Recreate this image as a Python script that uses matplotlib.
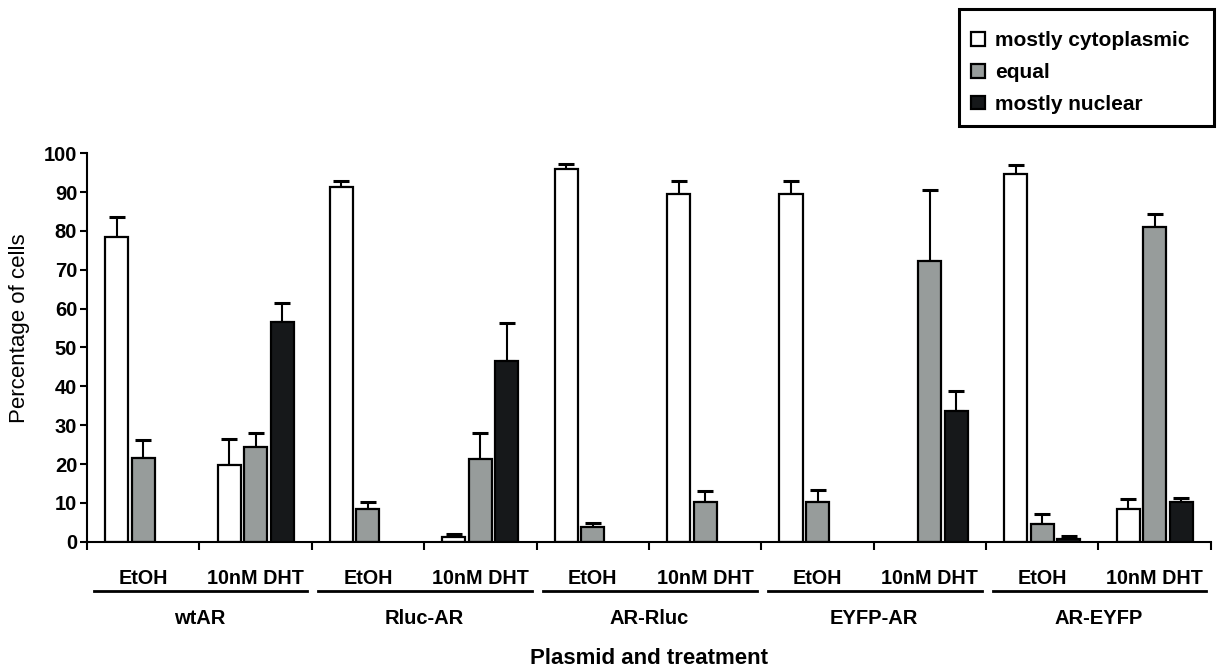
import matplotlib.pyplot as plt
import matplotlib.patches as patches
import matplotlib.transforms as mtransforms
import numpy as np

plt.rcParams['font.family'] = ['Liberation Sans', 'DejaVu Sans']
plt.rcParams['font.weight'] = 'bold'

plasmids = ['wtAR', 'Rluc-AR', 'AR-Rluc', 'EYFP-AR', 'AR-EYFP']
treatments = ['EtOH', '10nM DHT']
series = ['mostly cytoplasmic', 'equal', 'mostly nuclear']

# one value per plasmid/treatment pair, in plasmid order
cyto = [78.5, 19.7, 91.3, 1.3, 96.0, 89.6, 89.6, 0.0, 94.7, 8.4]
cyto_err = [5.0, 6.7, 1.5, 0.6, 1.3, 3.2, 3.2, 0.0, 2.2, 2.6]
equal = [21.5, 24.3, 8.5, 21.3, 3.7, 10.3, 10.3, 72.2, 4.6, 81.0]
equal_err = [4.7, 3.6, 1.8, 6.7, 1.1, 2.8, 3.1, 18.4, 2.5, 3.3]
nuclear = [0.0, 56.6, 0.0, 46.6, 0.0, 0.0, 0.0, 33.6, 0.7, 10.3]
nuclear_err = [0.0, 4.9, 0.0, 9.8, 0.0, 0.0, 0.0, 5.3, 0.7, 1.0]

colors = ['white', '#979c9b', '#16181a']

W, H = 1223, 670
fig = plt.figure(figsize=(W / 100, H / 100), dpi=100)
ax = fig.add_axes([0.0711, 0.1915, 0.919, 0.5797])

x = np.arange(len(cyto))
width = 0.205
step = 0.236

for k, (vals, errs) in enumerate([(cyto, cyto_err), (equal, equal_err), (nuclear, nuclear_err)]):
    vals = np.array(vals)
    errs = np.array(errs)
    keep = vals > 0
    xs = x[keep] + (k - 1) * step
    ax.bar(xs, vals[keep], width, color=colors[k], edgecolor='black',
           linewidth=1.6, zorder=2)
    ax.errorbar(xs, vals[keep], yerr=[np.zeros(keep.sum()), errs[keep]],
                fmt='none', ecolor='black', elinewidth=1.5, capsize=5.5,
                capthick=2.2, zorder=1)

ax.set_xlim(-0.5, len(cyto) - 0.5)
ax.set_ylim(0, 100)
ax.set_yticks(range(0, 101, 10))
ax.tick_params(axis='y', labelsize=14.5, width=1.5, length=5, direction='out', pad=2)

# tick marks between conditions, labels under each condition
ax.set_xticks(np.arange(-0.5, len(cyto)), [])
ax.set_xticks(x, treatments * len(plasmids), minor=True)
ax.tick_params(axis='x', which='major', width=1.5, length=6, direction='out')
ax.tick_params(axis='x', which='minor', length=0, labelsize=14.2, pad=20)

for side in ['top', 'right']:
    ax.spines[side].set_visible(False)
for side in ['left', 'bottom']:
    ax.spines[side].set_linewidth(1.5)

trans = mtransforms.blended_transform_factory(ax.transData, ax.transAxes)
for g, name in enumerate(plasmids):
    x0 = 2 * g - 0.5
    ax.plot([x0 + 0.06, x0 + 1.96], [-0.127, -0.127], color='black', lw=2,
            transform=trans, clip_on=False)
    ax.text(x0 + 1.0, -0.197, name, transform=trans, ha='center', va='center',
            fontsize=14.5)

ax.text(0.5, -0.3, 'Plasmid and treatment', transform=ax.transAxes,
        ha='center', va='center', fontsize=16)
ax.set_ylabel('Percentage of cells', fontsize=16, fontweight='normal', va='center')
ax.yaxis.set_label_coords(-0.0596, 0.55)

# legend entries without frame, box drawn separately
handles = [patches.Patch(facecolor=c, edgecolor='black', linewidth=1.6) for c in colors]
leg = fig.legend(handles, series, loc='upper left',
                 bbox_to_anchor=(971 / W, 1 - 31 / H), frameon=False,
                 fontsize=15, handlelength=0.65, handleheight=0.65,
                 handletextpad=0.5, labelspacing=0.62, borderpad=0,
                 borderaxespad=0)
fig.add_artist(patches.Rectangle((959 / W, 1 - 126 / H), 255 / W, 117 / H,
                                 transform=fig.transFigure, facecolor='none',
                                 edgecolor='black', linewidth=2.2))

plt.savefig('out.png', dpi=100)
plt.close()
